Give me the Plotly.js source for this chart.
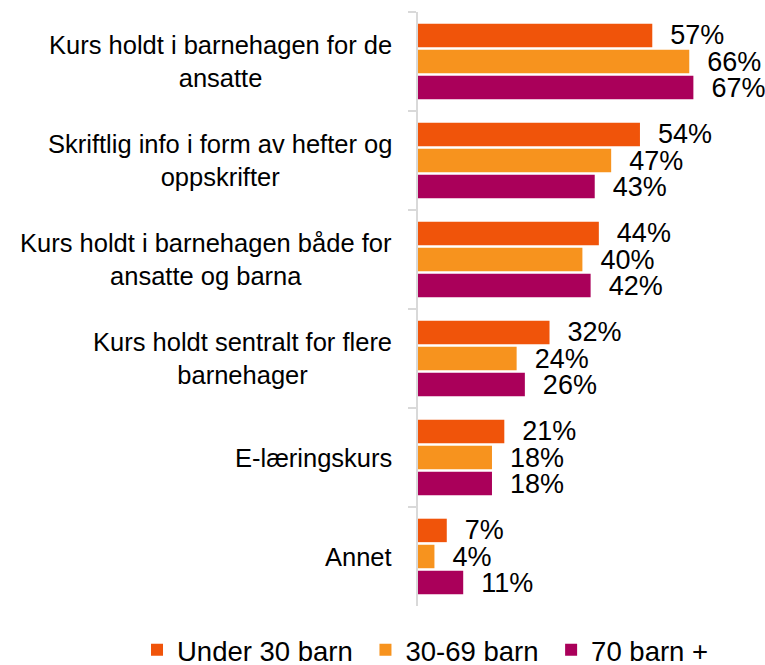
<!DOCTYPE html>
<html>
<head>
<meta charset="utf-8">
<script src="https://cdn.plot.ly/plotly-3.0.1.min.js"></script>
<style>html,body{margin:0;padding:0;background:#fff;}#chart{width:765px;height:665px;}</style>
</head>
<body>
<div id="chart"></div>
<script>
const categories = [
  "Kurs holdt i barnehagen for de<br>ansatte",
  "Skriftlig info i form av hefter og<br>oppskrifter",
  "Kurs holdt i barnehagen både for<br>ansatte og barna",
  "Kurs holdt sentralt for flere<br>barnehager",
  "E-læringskurs",
  "Annet"
];
const seriesNames = ["Under 30 barn", "30-69 barn", "70 barn +"];
const under30 = [57, 54, 44, 32, 21, 7];
const mid30_69 = [66, 47, 40, 24, 18, 4];
const over70 = [67, 43, 42, 26, 18, 11];
const colors = ["#F0540A", "#F7931E", "#AA005A"];

const font = "Liberation Sans, Arial, sans-serif";
const values = [under30, mid30_69, over70];
const data = values.map((v, i) => ({
  type: "bar",
  orientation: "h",
  name: seriesNames[i] + "\u00A0",
  x: v,
  y: categories,
  marker: { color: colors[i] },
  text: v.map(n => "\u00A0\u00A0" + n + "%"),
  texttemplate: "%{text}",
  textposition: "outside",
  constraintext: "none",
  cliponaxis: false,
  textfont: { family: font, size: 27, color: "#000" },
  hoverinfo: "none"
}));

const annotations = categories.map(c => ({
  xref: "paper", yref: "y",
  x: 0, y: c,
  xanchor: "right", yanchor: "middle",
  xshift: -24,
  align: "center",
  text: c,
  showarrow: false,
  font: { family: font, size: 25.5, color: "#000" }
}));

const layout = {
  width: 765, height: 665,
  margin: { l: 418, r: 20, t: 12, b: 59, autoexpand: false },
  paper_bgcolor: "#fff", plot_bgcolor: "#fff",
  barmode: "group",
  bargap: 0.21,
  bargroupgap: 0.1,
  font: { family: font, color: "#000" },
  xaxis: { range: [0, 79.56], visible: false, showgrid: false, zeroline: false, fixedrange: true },
  yaxis: {
    autorange: "reversed",
    showticklabels: false,
    showgrid: false, zeroline: false,
    showline: true, linecolor: "#D9D9D9", linewidth: 2,
    ticks: "outside", tickson: "boundaries", ticklen: 8, tickwidth: 2, tickcolor: "#D9D9D9",
    fixedrange: true
  },
  showlegend: true,
  legend: {
    orientation: "h",
    xref: "paper", yref: "paper",
    x: -0.8593, xanchor: "left",
    y: -0.074, yanchor: "middle",
    font: { family: font, size: 27.5, color: "#000" },
    traceorder: "normal"
  },
  annotations: annotations
};

Plotly.newPlot("chart", data, layout, { displayModeBar: false, staticPlot: true });
</script>
</body>
</html>
